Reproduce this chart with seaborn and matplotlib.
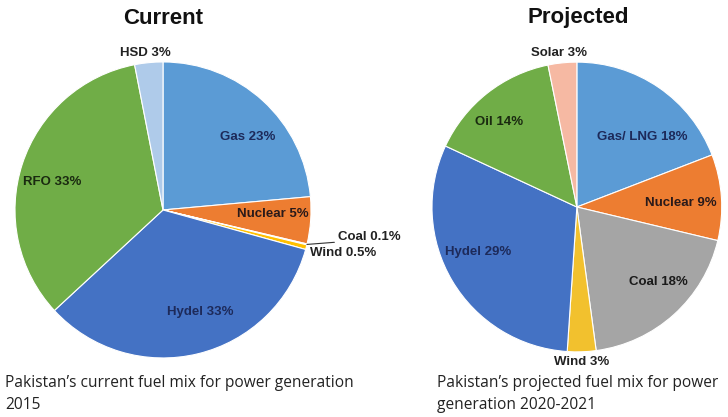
import numpy as np
import matplotlib
matplotlib.use("Agg")
import matplotlib.pyplot as plt
import seaborn as sns

sns.set_theme(style="white")
plt.rcParams["font.family"] = ["Liberation Sans", "DejaVu Sans"]

# ---------------------------
# Data
# ---------------------------
current_labels = ["Gas", "Nuclear", "Coal", "Wind", "Hydel", "RFO", "HSD"]
current_values = [23, 5, 0.1, 0.5, 33, 33, 3]

projected_labels = ["Gas/ LNG", "Nuclear", "Coal", "Wind", "Hydel", "Oil", "Solar"]
projected_values = [18, 9, 18, 3, 29, 14, 3]

# ---------------------------
# Styles / layout
# ---------------------------
current_colors = sns.color_palette(["#5B9BD5", "#ED7D31", "#A5A5A5", "#FFC000",
                                    "#4472C4", "#70AD47", "#AFCBEA"])
projected_colors = sns.color_palette(["#5B9BD5", "#ED7D31", "#A5A5A5", "#F2C12E",
                                      "#4472C4", "#70AD47", "#F6B9A3"])

inside = "#1d2a5a"
outside = "#222222"

# label placement in pie units (center 0,0 radius 1)
current_pos = {
    "Gas": (0.57, 0.49, "center", inside),
    "Nuclear": (0.74, -0.03, "center", "#2a1a1a"),
    "Hydel": (0.25, -0.69, "center", inside),
    "RFO": (-0.75, 0.19, "center", "#1a2a10"),
    "HSD": (-0.12, 1.06, "center", outside),
    "Wind": (0.99, -0.29, "left", outside),
}
projected_pos = {
    "Gas/ LNG": (0.45, 0.48, "center", inside),
    "Nuclear": (0.72, 0.03, "center", "#2a1a1a"),
    "Coal": (0.56, -0.52, "center", "#1a1a1a"),
    "Wind": (0.03, -1.07, "center", outside),
    "Hydel": (-0.68, -0.31, "center", inside),
    "Oil": (-0.54, 0.59, "center", "#1a2a10"),
    "Solar": (-0.12, 1.06, "center", outside),
}

fig = plt.figure(figsize=(7.28, 4.17), dpi=100)
ax1 = fig.add_axes([0.0206, 0.1415, 0.4066, 0.71])
ax2 = fig.add_axes([0.5934, 0.1559, 0.398, 0.6954])


def fmt(v):
    return f"{v:g}%"


def draw_pie(ax, labels, values, colors, pos):
    wedges, _ = ax.pie(values, colors=colors, startangle=90, counterclock=False,
                       radius=1, wedgeprops=dict(edgecolor="white", linewidth=0.8))
    ax.set_xlim(-1, 1)
    ax.set_ylim(-1, 1)
    ax.set_aspect("equal")
    ax.axis("off")
    for lab, val in zip(labels, values):
        if lab in pos:
            x, y, ha, c = pos[lab]
            ax.text(x, y, f"{lab} {fmt(val)}", ha=ha, va="center",
                    fontsize=9.5, fontweight="bold", color=c)
    return wedges


w1 = draw_pie(ax1, current_labels, current_values, current_colors, current_pos)
draw_pie(ax2, projected_labels, projected_values, projected_colors, projected_pos)

# Coal 0.1% with leader line
coal = w1[current_labels.index("Coal")]
mid = np.deg2rad((coal.theta1 + coal.theta2) / 2)
ax1.annotate(f"Coal {fmt(current_values[2])}", xy=(np.cos(mid), np.sin(mid)),
             xytext=(1.18, -0.225), ha="left", va="bottom",
             fontsize=9.5, fontweight="bold", color=outside,
             arrowprops=dict(arrowstyle="-", color="#333333", lw=0.8,
                             shrinkA=0, shrinkB=0, relpos=(0, 0.1)))

fig.text(163 / 728, 1 - 18 / 417, "Current", ha="center", va="center",
         fontsize=16, fontweight="bold", color="#111111")
fig.text(578 / 728, 1 - 18 / 417, "Projected", ha="center", va="center",
         fontsize=16, fontweight="bold", color="#111111")

cap = dict(ha="left", va="top", fontsize=11.2, color="#222222",
           family=["Open Sans", "DejaVu Sans"], linespacing=1.5)
fig.text(5 / 728, 1 - 375 / 417,
         "Pakistan\u2019s current fuel mix for power generation\n2015", **cap)
fig.text(437 / 728, 1 - 375 / 417,
         "Pakistan\u2019s projected fuel mix for power\ngeneration 2020-2021", **cap)

fig.savefig("out.png", dpi=100)
